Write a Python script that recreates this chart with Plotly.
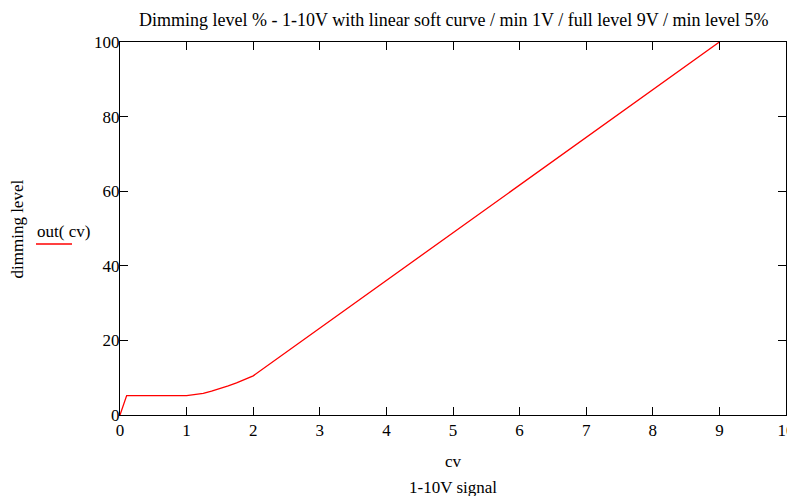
import plotly.graph_objects as go

cv = [0, 0.1, 1.0, 1.125, 1.25, 1.375, 1.5, 1.625, 1.75, 1.875, 2.0, 9.0]
out = [0, 5.2, 5.2, 5.4, 5.8, 6.4, 7.0, 7.8, 8.6, 9.5, 10.5, 100]

x_ticks = [0, 1, 2, 3, 4, 5, 6, 7, 8, 9, 10]
y_ticks = [0, 20, 40, 60, 80, 100]

title = "Dimming level % - 1-10V with linear soft curve / min 1V / full level 9V / min level 5%"
FONT = "Liberation Serif, Times New Roman, serif"

fig = go.Figure()
fig.add_trace(go.Scatter(x=cv, y=out, mode="lines",
                         line=dict(color="#ff0000", width=1.3), showlegend=False,
                         hoverinfo="skip"))

axis_common = dict(showgrid=False, zeroline=False, showline=True, linecolor="black",
                   linewidth=1, mirror="ticks", ticks="inside", ticklen=8,
                   tickcolor="black", tickwidth=1, ticklabeloverflow="allow",
                   automargin=False,
                   tickfont=dict(family=FONT, size=17, color="black"))

fig.update_xaxes(range=[0, 10], tickvals=x_ticks, ticktext=[str(v) for v in x_ticks],
                 **axis_common)
fig.update_yaxes(range=[0, 100], tickvals=y_ticks, ticktext=[str(v) for v in y_ticks],
                 ticklabelstandoff=-4, **axis_common)

px_w = 787 - 120 - 1
px_h = 496 - 42 - 81
leg_y = (415 - 244) / px_h

fig.update_layout(
    width=787, height=496,
    margin=dict(l=120, r=1, t=42, b=81, autoexpand=False),
    paper_bgcolor="white", plot_bgcolor="white",
    font=dict(family=FONT, color="black"),
    annotations=[
        dict(text=title, xref="paper", yref="paper", x=0.5, y=1, yshift=22,
             showarrow=False, font=dict(size=18), xanchor="center", yanchor="middle"),
        dict(text="cv", xref="paper", yref="paper", x=0.5, y=0, yshift=-46,
             showarrow=False, font=dict(size=17), xanchor="center", yanchor="middle"),
        dict(text="1-10V signal", xref="paper", yref="paper", x=0.5, y=0, yshift=-72,
             showarrow=False, font=dict(size=17), xanchor="center", yanchor="middle"),
        dict(text="dimming level", xref="paper", yref="paper", x=0, xshift=-103,
             y=0.5, yshift=-1, textangle=-90,
             showarrow=False, font=dict(size=17), xanchor="center", yanchor="middle"),
        dict(text="out( cv)", xref="paper", yref="paper", x=0, xshift=-57,
             y=0.5, yshift=-3,
             showarrow=False, font=dict(size=17), xanchor="center", yanchor="middle"),
    ],
    shapes=[
        dict(type="line", xref="paper", yref="paper",
             x0=(36 - 120) / px_w, x1=(72 - 120) / px_w, y0=leg_y, y1=leg_y,
             line=dict(color="#ff0000", width=1.3)),
    ],
)

fig.write_html("out.html", config={"displayModeBar": False},
               post_script="document.body.style.margin='0';document.body.style.overflow='hidden';")
